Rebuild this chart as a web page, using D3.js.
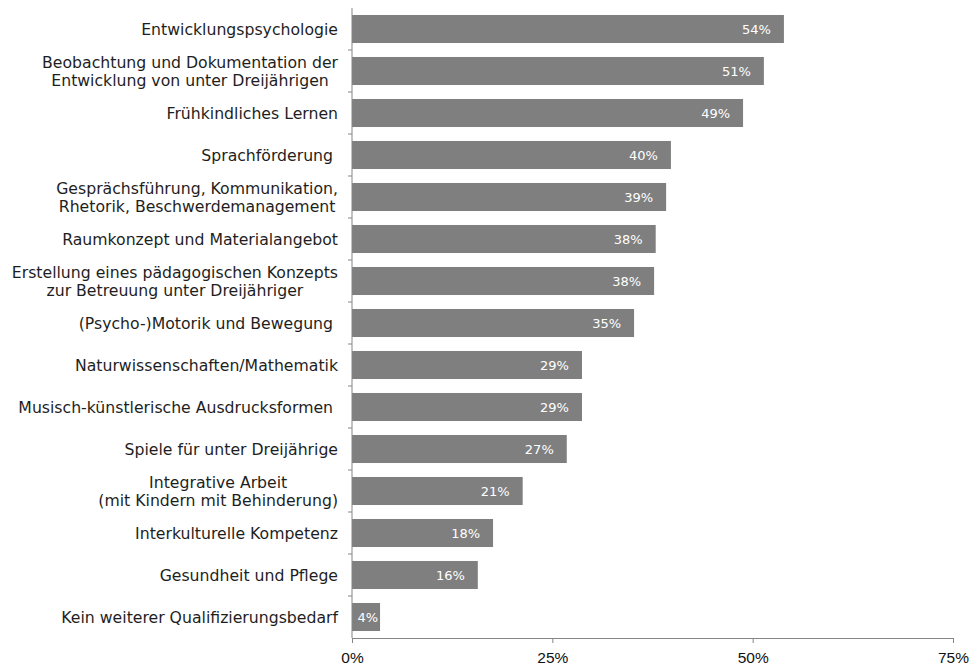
<!DOCTYPE html>
<html lang="de">
<head>
  <meta charset="UTF-8" />
  <title>Qualifizierungsbedarf</title>
  <script src="https://d3js.org/d3.v7.min.js"></script>
  <style>
    body {
      margin: 0;
      background: #fff;
    }
    svg {
      display: block;
      font-family: "DejaVu Sans", Verdana, sans-serif;
    }
    .cat-label {
      font-size: 15.7px;
      fill: #1e1e1e;
    }
    .val-label {
      font-size: 13px;
      fill: #fff;
    }
    .axis path, .axis line {
      stroke: #868686;
    }
    .axis text {
      font-size: 15.5px;
      fill: #111;
    }
  </style>
</head>
<body>
  <div id="chart"></div>
  <script>
    // Kategorien (Zeilen mit "\n" werden umbrochen)
    const categories = [
      "Entwicklungspsychologie",
      "Beobachtung und Dokumentation der\nEntwicklung von unter Dreijährigen",
      "Frühkindliches Lernen",
      "Sprachförderung\u00a0",
      "Gesprächsführung, Kommunikation,\nRhetorik, Beschwerdemanagement",
      "Raumkonzept und Materialangebot",
      "Erstellung eines pädagogischen Konzepts\nzur Betreuung unter Dreijähriger",
      "(Psycho-)Motorik und Bewegung\u00a0",
      "Naturwissenschaften/Mathematik",
      "Musisch-künstlerische Ausdrucksformen\u00a0",
      "Spiele für unter Dreijährige",
      "Integrative Arbeit\n(mit Kindern mit Behinderung)",
      "Interkulturelle Kompetenz",
      "Gesundheit und Pflege",
      "Kein weiterer Qualifizierungsbedarf"
    ];
    const values = [53.9, 51.4, 48.8, 39.8, 39.2, 37.9, 37.7, 35.2, 28.7, 28.7, 26.8, 21.3, 17.6, 15.7, 3.5];
    const xTicks = [0, 25, 50, 75];

    const width = 973;
    const height = 666;
    const margin = { top: 8, right: 20, bottom: 28, left: 352 };

    const svg = d3.select("#chart")
                  .append("svg")
                    .attr("width", width)
                    .attr("height", height);

    const x = d3.scaleLinear()
                .domain([0, 75])
                .range([margin.left, 953]);

    const y = d3.scaleBand()
                .domain(categories)
                .range([margin.top, height - margin.bottom])
                .paddingInner(0.333)
                .paddingOuter(0.1665);

    // Balken
    svg.append("g")
      .selectAll("rect")
      .data(categories)
      .enter()
      .append("rect")
        .attr("x", x(0))
        .attr("y", d => y(d))
        .attr("width", (d, i) => x(values[i]) - x(0))
        .attr("height", y.bandwidth())
        .attr("fill", "#7f7f7f");

    // Werte in den Balken
    svg.append("g")
      .selectAll("text")
      .data(categories)
      .enter()
      .append("text")
        .attr("class", "val-label")
        .attr("x", (d, i) => Math.max(x(values[i]) - 13, x(0) + 26))
        .attr("y", d => y(d) + y.bandwidth() / 2)
        .attr("dy", "0.36em")
        .attr("text-anchor", "end")
        .text((d, i) => Math.round(values[i]) + "%");

    // y-Achse (nur Linie + Ticks zwischen den Kategorien)
    const step = y.step();
    const yAxis = svg.append("g").attr("class", "axis");
    yAxis.append("line")
      .attr("x1", x(0)).attr("x2", x(0))
      .attr("y1", margin.top).attr("y2", height - margin.bottom);
    yAxis.selectAll(".ytick")
      .data(d3.range(1, categories.length))
      .enter()
      .append("line")
        .attr("class", "ytick")
        .attr("x1", x(0) - 4).attr("x2", x(0))
        .attr("y1", i => margin.top + i * step)
        .attr("y2", i => margin.top + i * step);

    // Kategorienbeschriftung
    const lineH = 18;
    const labelRight = x(0) - 14;
    const labels = svg.append("g")
      .selectAll("text")
      .data(categories)
      .enter()
      .append("text")
        .attr("class", "cat-label")
        .attr("text-anchor", "middle")
        .style("white-space", "pre");

    labels.each(function (d) {
      const el = d3.select(this);
      const lines = d.split("\n");
      const cy = y(d) + y.bandwidth() / 2;
      const tspans = lines.map((ln, k) =>
        el.append("tspan")
          .attr("y", cy + (k - (lines.length - 1) / 2) * lineH)
          .attr("dy", "0.36em")
          .text(ln)
      );
      const maxW = d3.max(tspans, t => t.node().getComputedTextLength());
      tspans.forEach(t => t.attr("x", labelRight - maxW / 2));
    });

    // x-Achse
    svg.append("g")
      .attr("class", "axis")
      .attr("transform", `translate(0, ${height - margin.bottom})`)
      .call(d3.axisBottom(x)
              .tickValues(xTicks)
              .tickFormat(d => d + "%")
              .tickSize(5)
              .tickSizeOuter(0)
              .tickPadding(9));
  </script>
</body>
</html>
